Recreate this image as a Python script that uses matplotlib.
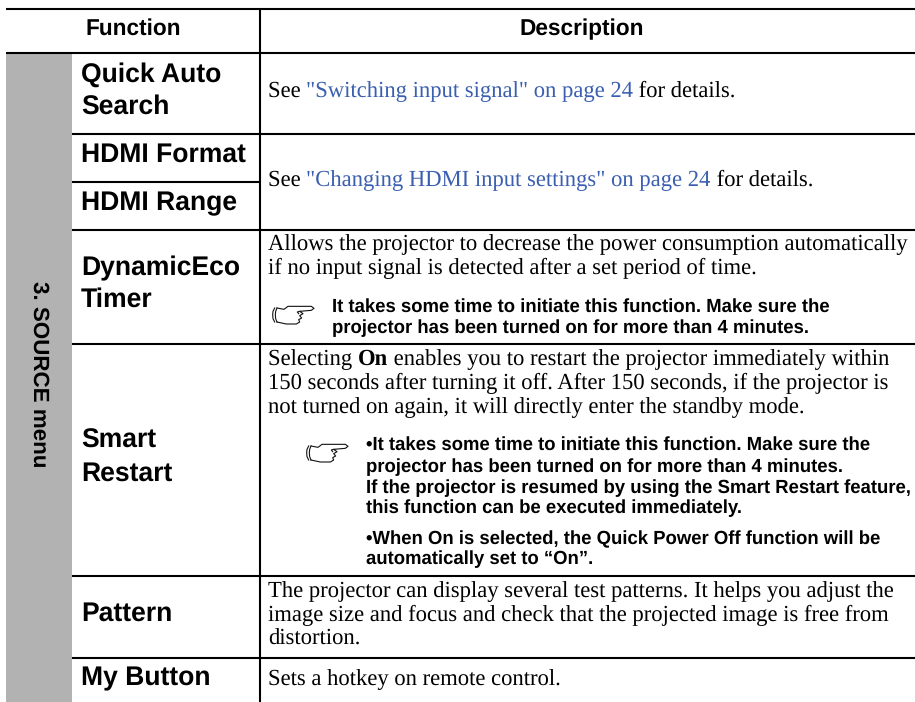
import matplotlib
matplotlib.use("Agg")
import matplotlib.pyplot as plt
from matplotlib.patches import Rectangle

plt.rcParams["text.hinting"] = "no_hinting"
plt.rcParams["text.kerning_factor"] = 0

W, H = 915, 702
headers = ["Function", "Description"]
section = "3. SOURCE menu"
functions = ["Quick Auto", "Search", "HDMI Format", "HDMI Range", "DynamicEco", "Timer",
             "Smart", "Restart", "Pattern", "My Button"]
function_baselines = [82, 114, 162, 210, 275, 307, 448, 481, 621, 685]
BLUE = "#3a5fb0"

fig = plt.figure(figsize=(W/100, H/100), dpi=100)
ax = fig.add_axes([0, 0, 1, 1])
ax.set_xlim(0, W); ax.set_ylim(H, 0); ax.axis("off")
renderer = fig.canvas.get_renderer()

SANS = "Liberation Sans"; SERIF = "Liberation Serif"
LW = 1.5
BODY = 16.3
ax.add_patch(Rectangle((6, 53), 66, H-53, color="#b2b2b2", lw=0))

# rules
for x0, y in [(6, 9), (6, 53)]:
    ax.plot([x0, W], [y, y], "k", lw=LW, solid_capstyle="butt")
for y in [134, 230, 344, 576, 658]:
    ax.plot([72, W], [y, y], "k", lw=LW, solid_capstyle="butt")
ax.plot([72, 260], [182, 182], "k", lw=LW, solid_capstyle="butt")
ax.plot([260, 260], [9, H], "k", lw=LW, solid_capstyle="butt")

# headers
ax.text(133, 35, headers[0], family=SANS, weight="bold", fontsize=16.3, ha="center", va="baseline")
ax.text(582, 35, headers[1], family=SANS, weight="bold", fontsize=16.3, ha="center", va="baseline")
ax.text(39, 374, section, family=SANS, weight="bold", fontsize=16.1, rotation=270, ha="center", va="center")

# function names
for name, y in zip(functions, function_baselines):
    ax.text(81, y, name, family=SANS, weight="bold", fontsize=19.1, ha="left", va="baseline")

def serif(x, y, s, color="k", weight="normal"):
    return ax.text(x, y, s, family=SERIF, fontsize=BODY, color=color, weight=weight, ha="left", va="baseline")

def run(x, y, parts):
    for s, c, w in parts:
        t = serif(x, y, s, c, w)
        x += t.get_window_extent(renderer=renderer).width

run(268, 97, [("See ", "k", "normal"), ('"Switching input signal" on page 24', BLUE, "normal"), (" for details.", "k", "normal")])
run(268, 186, [("See ", "k", "normal"), ('"Changing HDMI input settings" on page 24', BLUE, "normal"), (" for details.", "k", "normal")])

serif(268, 250, "Allows the projector to decrease the power consumption automatically")
serif(268, 274, "if no input signal is detected after a set period of time.")
run(268, 365, [("Selecting ", "k", "normal"), ("On", "k", "bold"), (" enables you to restart the projector immediately within", "k", "normal")])
serif(268, 389, "150 seconds after turning it off. After 150 seconds, if the projector is")
serif(268, 413, "not turned on again, it will directly enter the standby mode.")
serif(268, 597, "The projector can display several test patterns. It helps you adjust the")
serif(268, 621, "image size and focus and check that the projected image is free from")
serif(268, 645, "distortion.")
serif(268, 685, "Sets a hotkey on remote control.")

def note(x, y, s):
    ax.text(x, y, s, family=SANS, weight="bold", fontsize=13.35, ha="left", va="baseline")

note(332, 312, "It takes some time to initiate this function. Make sure the")
note(332, 333, "projector has been turned on for more than 4 minutes.")
note(366, 450, "•It takes some time to initiate this function. Make sure the")
note(366, 472, "projector has been turned on for more than 4 minutes.")
note(366, 493, "If the projector is resumed by using the Smart Restart feature,")
note(366, 513, "this function can be executed immediately.")
note(366, 544, "•When On is selected, the Quick Power Off function will be")
note(366, 564, "automatically set to “On”.")

# hand icon outline
def hand(ox, oy):
    strokes = [
        [(20, 30), (15, 40), (14, 50), (15, 62), (20, 72)],
        [(27, 30), (23, 40), (22, 50), (23, 62), (27, 72)],
        [(27, 30), (48, 34), (60, 25), (130, 25), (138, 31), (130, 37), (95, 40),
         (105, 47), (95, 53), (101, 60), (92, 65), (95, 72), (85, 78), (55, 78), (27, 72)],
        [(95, 40), (88, 42), (92, 47)],
    ]
    for s in strokes:
        ax.plot([ox + p[0] / 3 for p in s], [oy + p[1] / 3 for p in s], color="#111111", lw=0.8,
                solid_joinstyle="round")

hand(268, 298)
hand(302, 436)

fig.savefig("out.png", dpi=100)
